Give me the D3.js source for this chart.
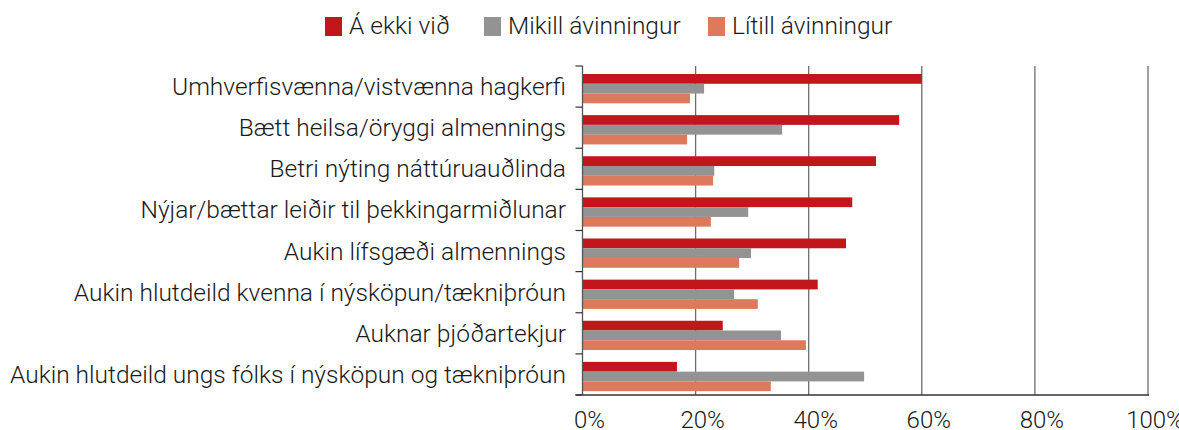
<!DOCTYPE html>
<html>
<head>
<meta charset="utf-8">
<script src="https://cdn.jsdelivr.net/npm/d3@7"></script>
<style>
  body { margin: 0; background: #fff; }
  svg text { font-family: Roboto, "Liberation Sans", sans-serif; font-weight: 300; fill: #1a1a1a; }
</style>
</head>
<body>
<svg id="chart" width="1179" height="430"></svg>
<script>
// categories top to bottom
var categories = [
  "Umhverfisvænna/vistvænna hagkerfi",
  "Bætt heilsa/öryggi almennings",
  "Betri nýting náttúruauðlinda",
  "Nýjar/bættar leiðir til þekkingarmiðlunar",
  "Aukin lífsgæði almennings",
  "Aukin hlutdeild kvenna í nýsköpun/tækniþróun",
  "Auknar þjóðartekjur",
  "Aukin hlutdeild ungs fólks í nýsköpun og tækniþróun"
];
var seriesNames = ["Á ekki við", "Mikill ávinningur", "Lítill ávinningur"];
var ekkiVid = [60, 56, 51.9, 47.7, 46.6, 41.6, 24.8, 16.7];
var mikill  = [21.5, 35.3, 23.3, 29.3, 29.8, 26.8, 35.1, 49.8];
var litill  = [19.0, 18.5, 23.1, 22.7, 27.7, 31.0, 39.5, 33.3];
var xTicks = [0, 20, 40, 60, 80, 100];
var colors = ["#c1161b", "#939393", "#dd7a5e"];

var series = [ekkiVid, mikill, litill];
var svg = d3.select("#chart");

var pLeft = 582.5, pRight = 1148, pTop = 66, pBottom = 395;

var x = d3.scaleLinear().domain([0, 100]).range([pLeft, pRight]);
var y0 = d3.scaleBand().domain(categories).range([pTop, pBottom]);
var y1 = d3.scaleBand().domain(seriesNames).range([8, 37.3]);
var color = d3.scaleOrdinal().domain(seriesNames).range(colors);

// gridlines
svg.append("g")
  .selectAll("line")
  .data(xTicks.filter(d => d > 0))
  .enter().append("line")
    .attr("x1", d => x(d)).attr("x2", d => x(d))
    .attr("y1", pTop).attr("y2", pBottom)
    .attr("stroke", "#6e6e6e")
    .attr("stroke-width", 1.3);

// bars
var groups = svg.append("g")
  .selectAll("g")
  .data(categories)
  .enter().append("g")
    .attr("transform", d => "translate(0," + y0(d) + ")");

groups.selectAll("rect")
  .data((d, i) => seriesNames.map((s, j) => ({ s: s, v: series[j][i] })))
  .enter().append("rect")
    .attr("x", x(0))
    .attr("y", d => y1(d.s))
    .attr("width", d => x(d.v) - x(0))
    .attr("height", y1.bandwidth())
    .attr("fill", d => color(d.s));

// left axis with ticks at band boundaries
var yAxis = svg.append("g");
yAxis.append("line")
  .attr("x1", pLeft).attr("x2", pLeft)
  .attr("y1", pTop).attr("y2", pBottom)
  .attr("stroke", "#555").attr("stroke-width", 1.3);
yAxis.selectAll(".tick")
  .data(categories.map(c => y0(c)).concat([pBottom]))
  .enter().append("line")
    .attr("x1", pLeft - 7).attr("x2", pLeft)
    .attr("y1", d => d).attr("y2", d => d)
    .attr("stroke", "#333").attr("stroke-width", 1.2);

yAxis.selectAll("text")
  .data(categories)
  .enter().append("text")
    .attr("x", 566)
    .attr("y", d => y0(d) + y0.bandwidth() / 2 + 8.5)
    .attr("text-anchor", "end")
    .style("font-size", "24.5px")
    .text(d => d);

// bottom axis
var xAxis = svg.append("g");
xAxis.append("line")
  .attr("x1", pLeft - 7).attr("x2", pRight + 1)
  .attr("y1", pBottom).attr("y2", pBottom)
  .attr("stroke", "#333").attr("stroke-width", 1.3);
xAxis.selectAll("text")
  .data(xTicks)
  .enter().append("text")
    .attr("x", d => x(d) + 7)
    .attr("y", 428)
    .attr("text-anchor", "middle")
    .style("font-size", "24px")
    .text(d => d + "%");

// legend
var legendX = [325, 484, 708];
var legend = svg.append("g")
  .selectAll("g")
  .data(seriesNames)
  .enter().append("g")
    .attr("transform", (d, i) => "translate(" + legendX[i] + ",17)");
legend.append("rect")
  .attr("width", 17).attr("height", 19)
  .attr("fill", d => color(d));
legend.append("text")
  .attr("x", 24).attr("y", 17)
  .style("font-size", "24.5px")
  .text(d => d);
</script>
</body>
</html>
